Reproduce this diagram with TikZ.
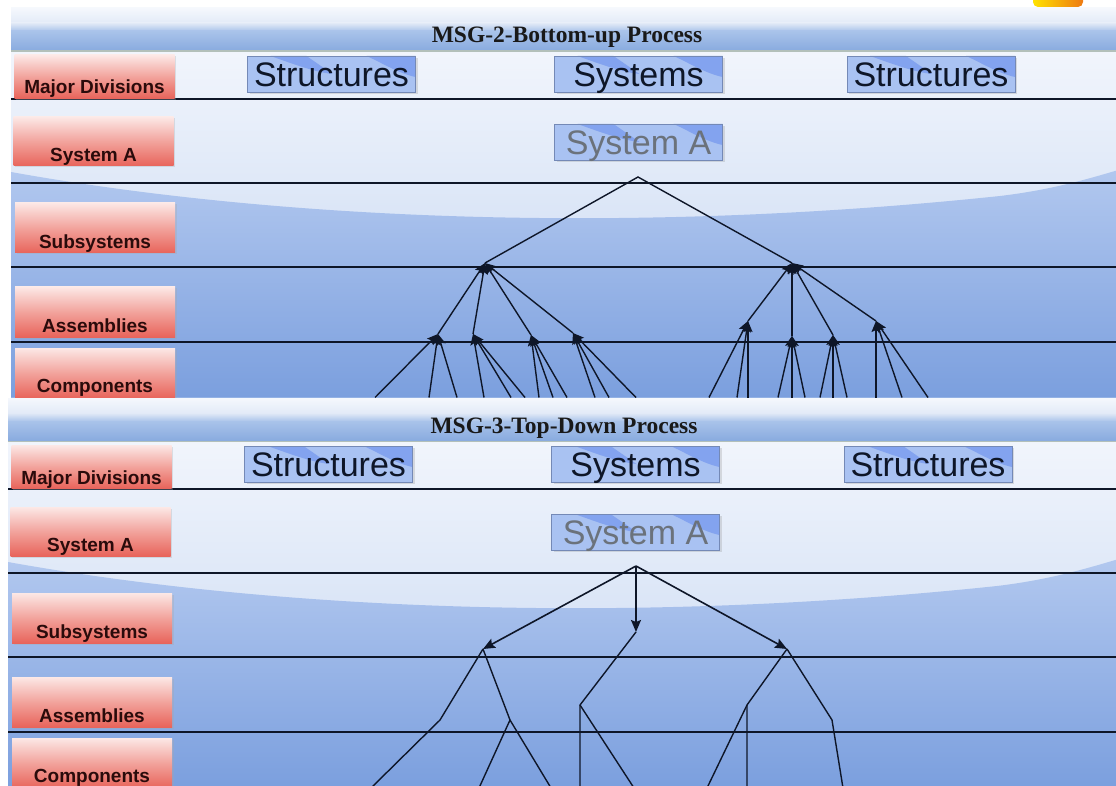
\documentclass[tikz,border=0pt]{standalone}
\usepackage{fontspec}
\setmainfont{Liberation Serif}
\newfontfamily\arialfont{Liberation Sans}
\usetikzlibrary{arrows.meta,shadows}

\definecolor{barlight}{HTML}{F5F8FD}
\definecolor{barmid}{HTML}{E2EAF7}
\definecolor{barsoft}{HTML}{A9C3EA}
\definecolor{barblue}{HTML}{89ABDF}
\definecolor{barline}{HTML}{B3C0BA}
\definecolor{rowtop}{HTML}{F1F5FC}
\definecolor{rowbot}{HTML}{C2D4F1}
\definecolor{deeptop}{HTML}{B2C8EF}
\definecolor{deepbot}{HTML}{7B9FDE}
\definecolor{redtop}{HTML}{FCE8E6}
\definecolor{redmid}{HTML}{F2A39C}
\definecolor{redbot}{HTML}{E8645B}
\definecolor{redtext}{HTML}{2A0B0B}
\definecolor{boxbase}{HTML}{A9C2F2}
\definecolor{boxdark}{HTML}{83A3EF}
\definecolor{boxedge}{HTML}{7489B6}
\definecolor{ink}{HTML}{0E1628}
\definecolor{grayink}{HTML}{6B727B}
\definecolor{logoyellow}{HTML}{FFE200}
\definecolor{logoorange}{HTML}{EE7A12}

\tikzset{
  rule/.style={ink, line width=1.2pt},
  branch/.style={ink, line width=1.4pt},
  upbranch/.style={branch, -{Stealth[length=11pt,width=9pt,inset=2pt]}},
  downbranch/.style={ink, line width=1.6pt, -{Stealth[length=12pt,width=10pt,inset=2pt]}},
  titletext/.style={font=\bfseries\fontsize{23.5}{24}\selectfont, text=black!90, inner sep=0pt},
  redlabel/.style={minimum width=160pt, inner xsep=0pt, inner ysep=0pt,
    top color=redtop, bottom color=redbot, middle color=redmid,
    font=\arialfont\bfseries\fontsize{19}{20}\selectfont, text=redtext,
    drop shadow={shadow xshift=1.5pt, shadow yshift=-1.5pt, fill=black!35, opacity=0.3}},
  bluebox/.style={draw=boxedge, line width=0.9pt, minimum width=168pt, minimum height=36pt,
    inner sep=0pt, text height=24.5pt, text depth=0pt, fill=boxbase,
    font=\arialfont\fontsize{34}{36}\selectfont, text=ink,
    drop shadow={shadow xshift=2pt, shadow yshift=-2pt, fill=black!40, opacity=0.3},
    path picture={
      \fill[boxdark] ([xshift=23pt]path picture bounding box.north west)
        -- ++(36pt,0pt) -- ++(26pt,-18pt)
        .. controls ++(-20pt,2pt) and ++(12pt,-4pt) .. ++(-62pt,18pt) -- cycle;
      \fill[boxdark] ([xshift=119pt]path picture bounding box.north west)
        -- ++(49pt,0pt) -- ++(0pt,-21pt)
        .. controls ++(-18pt,4pt) and ++(14pt,-6pt) .. ++(-49pt,21pt) -- cycle;
    }},
}

% one process panel: title bar, level rows, row labels and division boxes
\newcommand\drawpanel[2]{%
  \begin{scope}
    \clip (11,8) rectangle (1125,397.5);
    \shade[top color=barlight, bottom color=barmid] (11,8) rectangle (1125,23.5);
    \shade[top color=barmid, bottom color=barsoft] (11,23) rectangle (1125,31.5);
    \shade[top color=barsoft, bottom color=barblue] (11,31) rectangle (1125,50.5);
    \draw[barline, line width=2pt] (11,51.5) -- (1125,51.5);
    \shade[top color=rowtop, bottom color=rowbot] (11,52.5) rectangle (1125,397.5);
    \shade[top color=deeptop, bottom color=deepbot]
      (11,172) .. controls (250,215) and (600,238) .. (1000,196)
      .. controls (1050,190) and (1085,180) .. (1125,168)
      -- (1125,397.5) -- (11,397.5) -- cycle;
    \foreach \ry in {99,183,267,342} \draw[rule] (11,\ry) -- (1125,\ry);
    \node[redlabel, minimum height=43.5pt, text height=39pt, text depth=4.5pt]
      (#1-major) at (94.5,76.75) {Major Divisions};
    \node[redlabel, minimum height=49pt, text height=44.5pt, text depth=4.5pt]
      (#1-system) at (93.5,141.5) {System A};
    \node[redlabel, minimum height=50pt, text height=45.5pt, text depth=4.5pt]
      (#1-subsys) at (95,228) {Subsystems};
    \node[redlabel, minimum height=50pt, text height=45pt, text depth=5pt]
      (#1-assem) at (95,312) {Assemblies};
    \node[redlabel, minimum height=50pt, text height=44pt, text depth=6pt]
      (#1-comp) at (95,373) {Components};
    \node[bluebox] (#1-struct-l) at (331.5,74) {Structures};
    \node[bluebox] (#1-systems) at (638.5,74) {Systems};
    \node[bluebox] (#1-struct-r) at (931,74) {Structures};
    \node[bluebox, text=grayink] (#1-sysa) at (638.5,142) {System A};
    \node[titletext, anchor=base] (#1-title) at (567,43) {#2};
  \end{scope}}

\begin{document}
\begin{tikzpicture}[x=1pt, y=-1pt]
  \useasboundingbox (0,0) rectangle (1116,786);
  \fill[white] (0,0) rectangle (1116,786);
  \shade[left color=logoyellow, right color=logoorange, rounded corners=5pt]
    (1033,-8) rectangle (1083,7);

  \drawpanel{u}{MSG-2-Bottom-up Process}
  \begin{scope}[shift={(-3,390)}]
    \drawpanel{d}{MSG-3-Top-Down Process}
  \end{scope}

  % bottom-up tree: components feed assemblies, assemblies feed subsystems
  \coordinate (uApex) at (638,177);
  \coordinate (uSubL) at (485,263);
  \coordinate (uSubR) at (792,263);
  \draw[branch] (uSubL) -- (uApex) -- (uSubR);
  \foreach \n/\ax/\ay/\ends in {uAsm1/438/334/{375,429,457}, uAsm2/473/334/{484,511,525},
                              uAsm3/531/335/{539,553,567}, uAsm4/573/333/{595,609,636}} {
    \coordinate (\n) at (\ax,\ay);
    \draw[upbranch] (\n) -- (uSubL);
    \foreach \e in \ends {
      \coordinate (\n-\e) at (\e,397.5);
      \draw[upbranch] (\n-\e) -- (\n);
    }
  }
  \foreach \n/\ax/\ay/\ends in {uAsm5/748/321/{709,737,748}, uAsm6/792/336/{778,792,805},
                              uAsm7/833/335/{820,833,847}, uAsm8/876/321/{876,902,928}} {
    \coordinate (\n) at (\ax,\ay);
    \draw[upbranch] (\n) -- (uSubR);
    \foreach \e in \ends {
      \coordinate (\n-\e) at (\e,397.5);
      \draw[upbranch] (\n-\e) -- (\n);
    }
  }

  % top-down tree: the system breaks down into subsystems and their parts
  \coordinate (dApex) at (636,566);
  \coordinate (dSubL) at (483,649);
  \coordinate (dMid) at (636,632);
  \coordinate (dSubR) at (787,649);
  \draw[downbranch] (dApex) -- (dSubL);
  \draw[downbranch] (dApex) -- (dMid);
  \draw[downbranch] (dApex) -- (dSubR);
  \coordinate (dJ1) at (440,720);
  \coordinate (dJ2) at (510,720);
  \coordinate (dJ3) at (580,705);
  \coordinate (dJ4) at (747,705);
  \coordinate (dJ5) at (832,720);
  \coordinate (dE1) at (371,788);
  \coordinate (dE2) at (479,788);
  \coordinate (dE3) at (551,788);
  \coordinate (dE4) at (580,788);
  \coordinate (dE5) at (634,788);
  \coordinate (dE6) at (747,788);
  \coordinate (dE7) at (707,788);
  \coordinate (dE8) at (843,788);
  \draw[branch] (dSubL) -- (dJ1) -- (dE1);
  \draw[branch] (dSubL) -- (dJ2) -- (dE2);
  \draw[branch] (dJ2) -- (dE3);
  \draw[branch] (dMid) -- (dJ3) -- (dE4);
  \draw[branch] (dJ3) -- (dE5);
  \draw[branch] (dSubR) -- (dJ4) -- (dE6);
  \draw[branch] (dJ4) -- (dE7);
  \draw[branch] (dSubR) -- (dJ5) -- (dE8);
\end{tikzpicture}
\end{document}
